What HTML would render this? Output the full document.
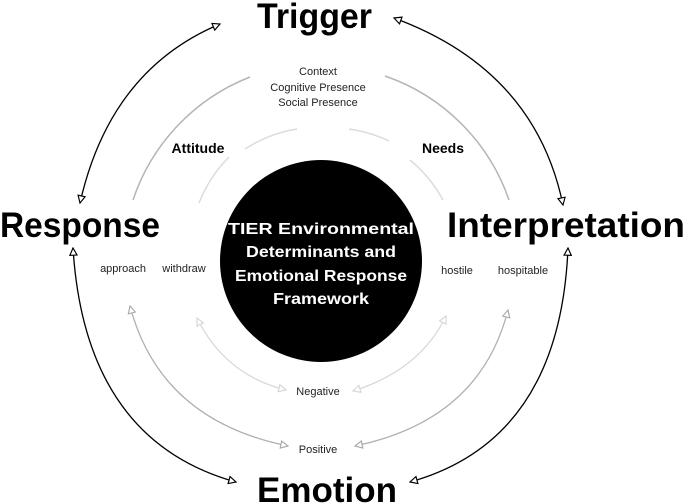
<!DOCTYPE html>
<html><head><meta charset="utf-8"><style>
html,body{margin:0;padding:0;background:#fff;}
svg{display:block;}
text{font-family:"Liberation Sans",sans-serif;}
</style></head><body>
<svg width="685" height="504" viewBox="0 0 685 504" xmlns="http://www.w3.org/2000/svg">
<defs>
<marker id="ab" viewBox="0 0 10 10" refX="9" refY="5" markerWidth="9" markerHeight="9" orient="auto-start-reverse" markerUnits="userSpaceOnUse">
<path d="M1,1 L9,5 L1,9 Z" fill="#fff" stroke="#000" stroke-width="1.3"/></marker>
<marker id="ag" viewBox="0 0 10 10" refX="9" refY="5" markerWidth="9" markerHeight="9" orient="auto-start-reverse" markerUnits="userSpaceOnUse">
<path d="M1,1 L9,5 L1,9 Z" fill="#fff" stroke="#aaa" stroke-width="1.3"/></marker>
<marker id="al" viewBox="0 0 10 10" refX="9" refY="5" markerWidth="9" markerHeight="9" orient="auto-start-reverse" markerUnits="userSpaceOnUse">
<path d="M1,1 L9,5 L1,9 Z" fill="#fff" stroke="#d6d6d6" stroke-width="1.3"/></marker>
</defs>

<!-- outer black arcs -->
<g fill="none" stroke="#000" stroke-width="1.3">
<path d="M220,24 Q110,70 80,203" marker-start="url(#ab)" marker-end="url(#ab)"/>
<path d="M394,18 Q535,70 563,205" marker-start="url(#ab)" marker-end="url(#ab)"/>
<path d="M73,248 Q85,440 236,482" marker-start="url(#ab)" marker-end="url(#ab)"/>
<path d="M568,248 Q560,440 410,482" marker-start="url(#ab)" marker-end="url(#ab)"/>
</g>

<!-- gray arcs upper -->
<g fill="none" stroke="#b5b5b5" stroke-width="1.5">
<path d="M133,200 A200,200 0 0 1 250,77"/>
<path d="M385,76 A200,200 0 0 1 509,200"/>
</g>
<g fill="none" stroke="#dcdcdc" stroke-width="1.5">
<path d="M199,203 A136,136 0 0 1 229,157"/>
<path d="M245,149 A136,136 0 0 1 297,129"/>
<path d="M349,129 A136,136 0 0 1 389,141"/>
<path d="M410,160 A136,136 0 0 1 443,200"/>
</g>

<!-- gray arrows lower -->
<g fill="none" stroke="#b0b0b0" stroke-width="1.3">
<path d="M130,306 Q160,420 288,446" marker-start="url(#ag)" marker-end="url(#ag)"/>
<path d="M355,446 Q480,420 508,310" marker-start="url(#ag)" marker-end="url(#ag)"/>
</g>
<g fill="none" stroke="#d8d8d8" stroke-width="1.3">
<path d="M197,318 Q225,375 286,390" marker-start="url(#al)" marker-end="url(#al)"/>
<path d="M353,391 Q420,370 446,316" marker-start="url(#al)" marker-end="url(#al)"/>
</g>

<!-- center circle -->
<ellipse cx="321" cy="261" rx="101" ry="101" fill="#000"/>
<g fill="#fff" font-weight="bold" font-size="16" text-anchor="middle">
<text x="321" y="234" textLength="186" lengthAdjust="spacingAndGlyphs">TIER Environmental</text>
<text x="321" y="257" textLength="150" lengthAdjust="spacingAndGlyphs">Determinants and</text>
<text x="321" y="281" textLength="172" lengthAdjust="spacingAndGlyphs">Emotional Response</text>
<text x="321" y="304" textLength="96" lengthAdjust="spacingAndGlyphs">Framework</text>
</g>

<!-- big labels -->
<g font-weight="bold" fill="#000" font-size="35">
<text x="257" y="28" textLength="115" lengthAdjust="spacingAndGlyphs">Trigger</text>
<text x="0" y="237" textLength="160" lengthAdjust="spacingAndGlyphs">Response</text>
<text x="447" y="237" textLength="238" lengthAdjust="spacingAndGlyphs">Interpretation</text>
<text x="257" y="502" textLength="140" lengthAdjust="spacingAndGlyphs">Emotion</text>
</g>

<!-- small labels -->
<g fill="#222" font-size="11" text-anchor="middle">
<text x="318" y="75">Context</text>
<text x="318" y="91">Cognitive Presence</text>
<text x="318" y="106">Social Presence</text>
<text x="123" y="272">approach</text>
<text x="184" y="272">withdraw</text>
<text x="457" y="274">hostile</text>
<text x="523" y="274">hospitable</text>
<text x="318" y="395">Negative</text>
<text x="318" y="453">Positive</text>
</g>
<g fill="#000" font-size="14" font-weight="bold" text-anchor="middle">
<text x="198" y="153">Attitude</text>
<text x="443" y="153">Needs</text>
</g>
</svg>
</body></html>
